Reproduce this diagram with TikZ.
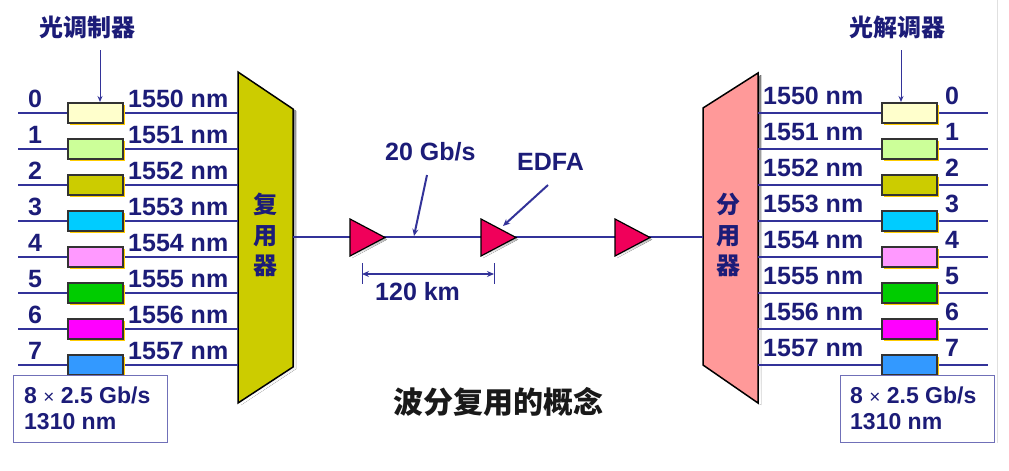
\documentclass[tikz,border=0pt]{standalone}
\usepackage{fontspec}
\setmainfont{Liberation Sans}
\newfontfamily\cjk{Noto Sans CJK SC}
\usetikzlibrary{arrows.meta,shadows}
\definecolor{navy}{RGB}{28,28,120}
\definecolor{wirec}{RGB}{51,51,153}
\definecolor{shade}{RGB}{255,204,0}
\definecolor{muxc}{RGB}{204,204,0}
\definecolor{demuxc}{RGB}{255,153,153}
\definecolor{ampc}{RGB}{240,0,90}
\definecolor{c0}{RGB}{255,255,204}
\definecolor{c1}{RGB}{204,255,153}
\definecolor{c2}{RGB}{204,204,0}
\definecolor{c3}{RGB}{0,204,255}
\definecolor{c4}{RGB}{255,153,255}
\definecolor{c5}{RGB}{0,204,0}
\definecolor{c6}{RGB}{255,0,255}
\definecolor{c7}{RGB}{51,153,255}
\begin{document}
\begin{tikzpicture}[x=1pt,y=-1pt,
  wire/.style={draw=wirec, line width=2.5pt},
  lbl/.style={font=\fontsize{25}{30}\selectfont\bfseries, text=navy, inner sep=0pt, anchor=base west},
  small/.style={font=\fontsize{23}{27}\selectfont\bfseries, text=navy, inner sep=0pt, anchor=base west},
  cjklbl/.style={font=\cjk\bfseries\fontsize{24}{30.5}\selectfont, text=navy, inner sep=0pt, align=center},
  modbox/.style={draw=black!80, line width=1.2pt, minimum width=55pt, minimum height=20pt, inner sep=0pt,
    drop shadow={shadow xshift=2pt, shadow yshift=-2pt, fill=shade, opacity=1}},
  ptr/.style={draw=wirec, line width=1pt, -{Stealth[length=6pt,width=5pt]}},
  ptrb/.style={draw=wirec, line width=2pt, -{Stealth[length=7pt,width=6pt]}},
  infobox/.style={draw=wirec!70, line width=1pt, fill=white, anchor=north west, minimum width=154pt, minimum height=67pt, inner sep=0pt}
]
\useasboundingbox (0,0) rectangle (1009,471);
\fill[white] (0,0) rectangle (1009,471);
\draw[black!12, line width=1pt] (997,0) -- (997,443);

% multiplexer
\fill[shade] (241,74) -- (296,111) -- (296,369) -- (241,405) -- cycle;
\draw[fill=muxc, line width=1.5pt] (238,72) -- (293,109) -- (293,367) -- (238,403) -- cycle;
\node[cjklbl] (mux) at (265,235) {复\\用\\器};

% demultiplexer
\fill[shade] (706,110) -- (761,75) -- (761,405) -- (706,367) -- cycle;
\draw[fill=demuxc, line width=1.5pt] (703,108) -- (758,73) -- (758,403) -- (703,365) -- cycle;
\node[cjklbl] (demux) at (728,235) {分\\用\\器};

% channels
\foreach \i/\c in {0/c0,1/c1,2/c2,3/c3,4/c4,5/c5,6/c6,7/c7} {
  \coordinate (li\i) at (18,113+36*\i);
  \coordinate (lo\i) at (238,113+36*\i);
  \draw[wire] (li\i) -- (lo\i);
  \node[modbox, fill=\c] (m\i) at (95.5,113+36*\i) {};
  \node[lbl] (ln\i) at (28,107+36*\i) {\i};
  \node[lbl] (lw\i) at (128,107+36*\i) {155\i{} nm};
  \coordinate (ri\i) at (758,113+36*\i);
  \coordinate (ro\i) at (988,113+36*\i);
  \draw[wire] (ri\i) -- (ro\i);
  \node[modbox, fill=\c] (d\i) at (909.5,113+36*\i) {};
  \node[lbl] (rn\i) at (945,104+36*\i) {\i};
  \node[lbl] (rw\i) at (763,104+36*\i) {155\i{} nm};
}

% trunk
\coordinate (tin) at (293,237);
\coordinate (tout) at (703,237);
\draw[wire] (tin) -- (tout);
\foreach \n/\x in {1/350,2/481,3/615} {
  \fill[shade] (\x+2,221) -- (\x+37,239.5) -- (\x+2,258) -- cycle;
  \draw[fill=ampc, line width=1.2pt] (\x,219) -- (\x+35,237.5) -- (\x,256) -- cycle;
  \coordinate (amp\n) at (\x+35,237.5);
}

% top labels
\node[cjklbl] (mod) at (87,27) {光调制器};
\node[cjklbl] (demod) at (897,27) {光解调器};
\coordinate (modtip) at (100,102);
\coordinate (demodtip) at (901,102);
\draw[ptr] (100,50) -- (modtip);
\draw[ptr] (901,50) -- (demodtip);

% trunk labels
\node[lbl] (rate) at (385,160) {20 Gb/s};
\coordinate (ratetip) at (414,236);
\draw[ptrb] (427,175) -- (ratetip);
\node[lbl] (edfa) at (517,170) {EDFA};
\coordinate (edfatip) at (503,226);
\draw[ptrb] (548,185) -- (edfatip);

% span
\coordinate (s1) at (362,274);
\coordinate (s2) at (494,274);
\draw[draw=wirec, line width=1pt] (362,263) -- (362,284);
\draw[draw=wirec, line width=1pt] (494,263) -- (494,284);
\draw[draw=wirec, line width=1.8pt, {Stealth[length=7pt,width=6pt]}-{Stealth[length=7pt,width=6pt]}] (s1) -- (s2);
\node[lbl] (span) at (375,300) {120 km};

% info boxes
\node[infobox] (lbox) at (13,375) {};
\node[small] at (24,403) {8 {\mdseries\fontsize{19}{22}\selectfont ×} 2.5 Gb/s};
\node[small] at (24,429) {1310 nm};
\node[infobox] (rbox) at (840,375) {};
\node[small] at (850,403) {8 {\mdseries\fontsize{19}{22}\selectfont ×} 2.5 Gb/s};
\node[small] at (850,429) {1310 nm};

% title
\node[font=\cjk\bfseries\fontsize{30}{36}\selectfont, text=black!90, inner sep=0pt] (title) at (498,402) {波分复用的概念};
\end{tikzpicture}
\end{document}
